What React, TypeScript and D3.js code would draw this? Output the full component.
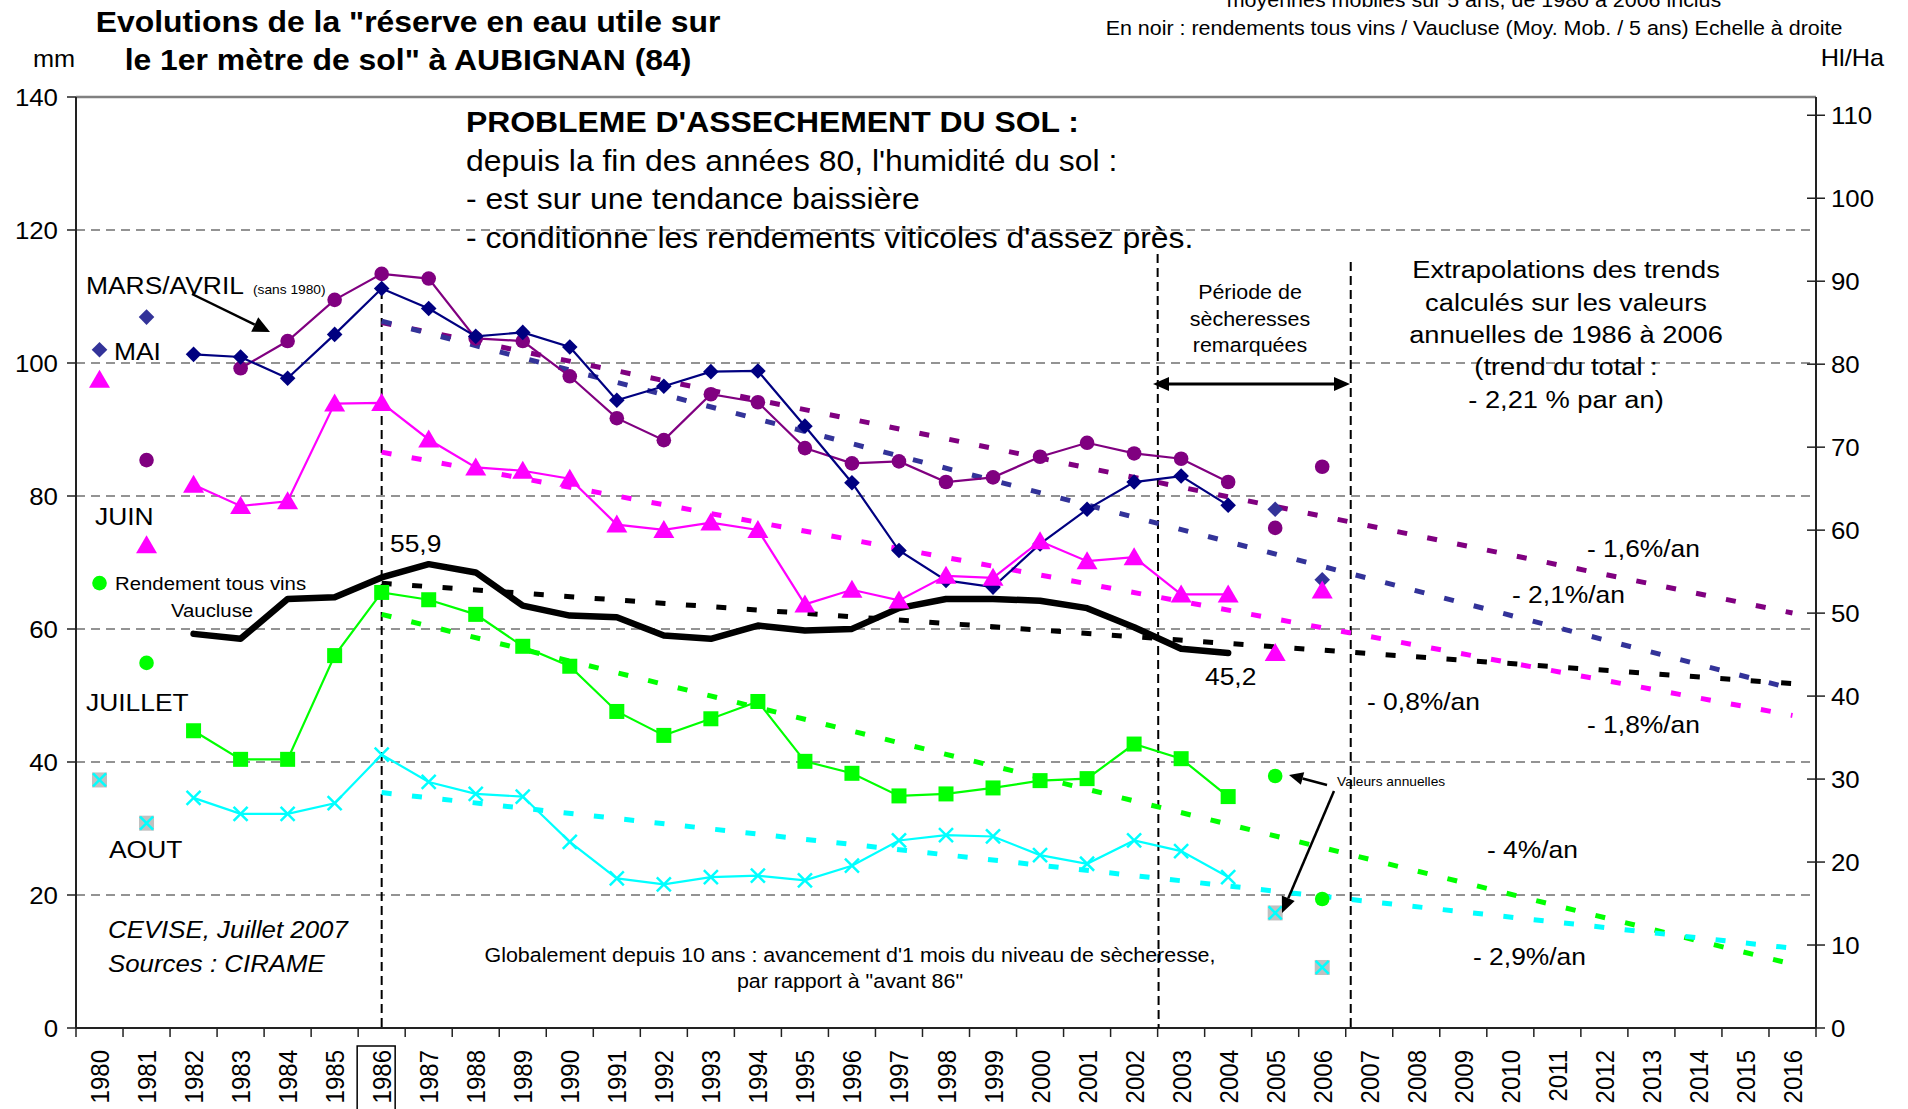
import React from "react";
import * as d3 from "d3";

// categories
const years = d3.range(1980, 2017);
const lineYears = d3.range(1982, 2005);
const isoYears = [1980, 1981, 2005, 2006];

// mm, 1982..2004 (connected series)
const marsAvril = [null, 99.2, 103.3, 109.5, 113.4, 112.7, 103.7, 103.3, 98.0, 91.7, 88.4, 95.3, 94.1, 87.2, 84.9, 85.2, 82.1, 82.8, 85.9, 88.0, 86.4, 85.6, 82.1];
const mai = [101.3, 100.9, 97.7, 104.3, 111.2, 108.2, 104.0, 104.6, 102.4, 94.4, 96.5, 98.7, 98.8, 90.5, 82.0, 71.8, 67.3, 66.3, 72.8, 78.0, 82.1, 83.0, 78.6];
const juin = [81.7, 78.5, 79.2, 93.9, 94.0, 88.5, 84.3, 83.8, 82.6, 75.7, 74.9, 76.0, 74.9, 63.7, 65.9, 64.3, 68.0, 67.7, 73.2, 70.2, 70.8, 65.2, 65.2];
const juillet = [44.7, 40.4, 40.4, 56.0, 65.5, 64.4, 62.2, 57.4, 54.4, 47.6, 44.0, 46.5, 49.1, 40.1, 38.3, 34.9, 35.2, 36.1, 37.2, 37.5, 42.7, 40.5, 34.8];
const aout = [34.6, 32.2, 32.2, 33.8, 41.1, 37.0, 35.2, 34.8, 28.0, 22.5, 21.6, 22.7, 22.9, 22.2, 24.4, 28.2, 29.0, 28.8, 26.0, 24.7, 28.2, 26.6, 22.7];
// Hl/Ha, right scale
const rendement = [47.5, 46.9, 51.7, 51.9, 54.3, 55.9, 54.9, 50.9, 49.7, 49.5, 47.3, 46.9, 48.5, 47.9, 48.1, 50.6, 51.7, 51.7, 51.5, 50.6, 48.3, 45.7, 45.2];

// annual values (1980, 1981, 2005, 2006)
const maiIso = [102.0, 106.9, 78.0, 67.4];
const marsIso = [null, 85.4, 75.2, 84.4];
const juinIso = [97.5, 72.6, 56.4, 65.8];
const juilletIso = [66.9, 54.9, 37.9, 19.4];
const aoutIso = [37.3, 30.8, 17.3, 9.1];

// trends 1986 -> 2016
const trendYears = [1986, 2016];
const trendMars = [106.1, 62.4];
const trendMai = [106.3, 51.0];
const trendJuin = [86.6, 47.0];
const trendRendement = [53.6, 41.5];
const trendJuillet = [62.2, 9.6];
const trendAout = [35.4, 12.0];

const leftTicks = [0, 20, 40, 60, 80, 100, 120, 140];
const rightTicks = [0, 10, 20, 30, 40, 50, 60, 70, 80, 90, 100, 110];

const W = 1908;
const H = 1109;
const SX = 1.1; // text is slightly wide in the original
const FONT = "'Liberation Sans', Arial, sans-serif";

const x = d3.scaleBand<number>().domain(years).range([76, 1816]);
const cx = (yr: number) => (x(yr) as number) + x.bandwidth() / 2;
const yL = d3.scaleLinear().domain([0, 140]).range([1028, 97]);
const yR = d3.scaleLinear().domain([0, 112.2]).range([1028, 97]);

const PURPLE = "#800080";
const NAVY = "#000080";
const BLUE = "#333399";
const PINK = "#FF00FF";
const GREEN = "#00FF00";
const CYAN = "#00FFFF";

const T = ({ x, y, size, anchor = "start", weight = "normal", italic = false, children }: any) => (
  <text
    transform={`translate(${x},${y}) scale(${SX},1)`}
    fontSize={size}
    textAnchor={anchor}
    fontWeight={weight}
    fontStyle={italic ? "italic" : "normal"}
    fontFamily={FONT}
    fill="#000"
  >
    {children}
  </text>
);

const Arrow = ({ x1, y1, x2, y2, w = 2.5, head = 16, hw = 7 }: any) => {
  const a = Math.atan2(y2 - y1, x2 - x1);
  const bx = x2 - head * Math.cos(a);
  const by = y2 - head * Math.sin(a);
  const px = -Math.sin(a) * hw;
  const py = Math.cos(a) * hw;
  return (
    <g>
      <line x1={x1} y1={y1} x2={bx} y2={by} stroke="#000" strokeWidth={w} />
      <polygon points={`${x2},${y2} ${bx + px},${by + py} ${bx - px},${by - py}`} fill="#000" />
    </g>
  );
};

const diamond = (r: number) => `M0,${-r}L${r},0L0,${r}L${-r},0Z`;
const triangle = "M0,-10L10.5,8L-10.5,8Z";

const Marker = ({ kind, px, py, color }: any) => {
  const t = `translate(${px},${py})`;
  if (kind === "diamond") return <path transform={t} d={diamond(7.8)} fill={color} />;
  if (kind === "circle") return <circle cx={px} cy={py} r={7.3} fill={color} />;
  if (kind === "triangle") return <path transform={t} d={triangle} fill={color} />;
  if (kind === "square") return <rect x={px - 7.5} y={py - 7.5} width={15} height={15} fill={color} />;
  if (kind === "cross")
    return (
      <g transform={t} stroke={color} strokeWidth={2.5}>
        <line x1={-7} y1={-7} x2={7} y2={7} />
        <line x1={-7} y1={7} x2={7} y2={-7} />
      </g>
    );
  if (kind === "xbox")
    return (
      <g transform={t}>
        <rect x={-7.5} y={-7.5} width={15} height={15} fill="#C0C0C0" />
        <g stroke={color} strokeWidth={2.5}>
          <line x1={-6.5} y1={-6.5} x2={6.5} y2={6.5} />
          <line x1={-6.5} y1={6.5} x2={6.5} y2={-6.5} />
        </g>
      </g>
    );
  return null;
};

const series = [
  { vals: marsAvril, color: PURPLE, kind: "circle" },
  { vals: mai, color: NAVY, kind: "diamond" },
  { vals: juin, color: PINK, kind: "triangle" },
  { vals: juillet, color: GREEN, kind: "square" },
  { vals: aout, color: CYAN, kind: "cross" },
];

const isoSeries = [
  { vals: maiIso, color: BLUE, kind: "diamond" },
  { vals: marsIso, color: PURPLE, kind: "circle" },
  { vals: juinIso, color: PINK, kind: "triangle" },
  { vals: juilletIso, color: GREEN, kind: "circle" },
  { vals: aoutIso, color: CYAN, kind: "xbox" },
];

const trends = [
  { vals: trendMars, color: PURPLE, y: yL },
  { vals: trendMai, color: BLUE, y: yL },
  { vals: trendJuin, color: PINK, y: yL },
  { vals: trendRendement, color: "#000", y: yR },
  { vals: trendJuillet, color: GREEN, y: yL },
  { vals: trendAout, color: CYAN, y: yL },
];

export default function App() {
  const lineL = d3
    .line<number | null>()
    .defined((d) => d != null)
    .x((_, i) => cx(lineYears[i]))
    .y((d) => yL(d as number));
  const lineR = d3
    .line<number>()
    .x((_, i) => cx(lineYears[i]))
    .y((d) => yR(d));

  return (
    <svg width={W} height={H} style={{ position: "absolute", left: 0, top: 0, background: "#fff" }}>
      <rect width={W} height={H} fill="#fff" />

      {/* grid */}
      {leftTicks.filter((t) => t > 0 && t < 140).map((t) => (
        <line key={t} x1={76} x2={1816} y1={yL(t)} y2={yL(t)} stroke="#707070" strokeWidth={1.5} strokeDasharray="9 6" />
      ))}

      {/* frame */}
      <line x1={76} x2={1816} y1={yL(140)} y2={yL(140)} stroke="#808080" strokeWidth={2.5} />
      <line x1={76} x2={76} y1={yL(140)} y2={yL(0)} stroke="#222" strokeWidth={2} />
      <line x1={1816} x2={1816} y1={yL(140)} y2={yL(0)} stroke="#222" strokeWidth={2} />
      <line x1={76} x2={1816} y1={yL(0)} y2={yL(0)} stroke="#222" strokeWidth={2} />

      {/* left axis */}
      {leftTicks.map((t) => (
        <g key={t}>
          <line x1={67} x2={76} y1={yL(t)} y2={yL(t)} stroke="#222" strokeWidth={1.5} />
          <T x={58} y={yL(t) + 8.5} size={23.5} anchor="end">{t}</T>
        </g>
      ))}
      {/* right axis */}
      {rightTicks.map((t) => (
        <g key={t}>
          <line x1={1807} x2={1825} y1={yR(t)} y2={yR(t)} stroke="#222" strokeWidth={1.5} />
          <T x={1831} y={yR(t) + 8.5} size={23.5}>{t}</T>
        </g>
      ))}
      {/* x axis */}
      {years.concat([2017]).map((yr) => {
        const xx = yr === 2017 ? 1816 : (x(yr) as number);
        return <line key={yr} x1={xx} x2={xx} y1={1028} y2={1037} stroke="#222" strokeWidth={1.5} />;
      })}
      {years.map((yr) => (
        <text
          key={yr}
          transform={`translate(${cx(yr)},1050) scale(${SX},1) rotate(-90)`}
          textAnchor="end"
          dy="0.36em"
          fontSize={24}
          fontFamily={FONT}
        >
          {yr}
        </text>
      ))}
      <rect x={(x(1986) as number) - 1} y={1046} width={38} height={70} fill="none" stroke="#000" strokeWidth={1.5} />

      {/* vertical markers */}
      <line x1={cx(1986)} x2={cx(1986)} y1={290} y2={1028} stroke="#000" strokeWidth={2} strokeDasharray="9 5" />
      <line x1={x(2003) as number} x2={(x(2003) as number) + 1} y1={254} y2={1028} stroke="#000" strokeWidth={2} strokeDasharray="9 5" />
      <line x1={(x(2007) as number) + 5} x2={(x(2007) as number) + 5} y1={262} y2={1028} stroke="#000" strokeWidth={2} strokeDasharray="9 5" />

      {/* trends */}
      {trends.map((tr, i) => (
        <line
          key={i}
          x1={cx(trendYears[0])}
          y1={tr.y(tr.vals[0])}
          x2={cx(trendYears[1])}
          y2={tr.y(tr.vals[1])}
          stroke={tr.color}
          strokeWidth={5}
          strokeDasharray="10 20.5"
        />
      ))}

      {/* rendement */}
      <path d={lineR(rendement) as string} fill="none" stroke="#000" strokeWidth={6.5} strokeLinejoin="round" strokeLinecap="round" />

      {/* monthly series */}
      {series.map((s, i) => (
        <g key={i}>
          <path d={lineL(s.vals) as string} fill="none" stroke={s.color} strokeWidth={2.2} />
          {s.vals.map((v, j) =>
            v == null ? null : <Marker key={j} kind={s.kind} px={cx(lineYears[j])} py={yL(v)} color={s.color} />
          )}
        </g>
      ))}
      {isoSeries.map((s, i) => (
        <g key={i}>
          {s.vals.map((v, j) =>
            v == null ? null : <Marker key={j} kind={s.kind} px={cx(isoYears[j])} py={yL(v)} color={s.color} />
          )}
        </g>
      ))}

      {/* titles */}
      <T x={408} y={32} size={29} anchor="middle" weight="bold">Evolutions de la "réserve en eau utile sur</T>
      <T x={408} y={70} size={29} anchor="middle" weight="bold">le 1er mètre de sol" à AUBIGNAN (84)</T>
      <T x={33} y={67} size={23}>mm</T>
      <T x={1884} y={66} size={23} anchor="end">Hl/Ha</T>
      <T x={1474} y={7} size={19.5} anchor="middle">moyennes mobiles sur 5 ans, de 1980 à 2006 inclus</T>
      <T x={1474} y={35} size={19.5} anchor="middle">En noir : rendements tous vins / Vaucluse (Moy. Mob. / 5 ans) Echelle à droite</T>

      <T x={466} y={132} size={29} weight="bold">PROBLEME D'ASSECHEMENT DU SOL :</T>
      <T x={466} y={171} size={29}>depuis la fin des années 80, l'humidité du sol :</T>
      <T x={466} y={209} size={29}>- est sur une tendance baissière</T>
      <T x={466} y={248} size={29}>- conditionne les rendements viticoles d'assez près.</T>

      {/* series labels */}
      <T x={86} y={294} size={24}>MARS/AVRIL</T>
      <T x={253} y={294} size={12.5}>(sans 1980)</T>
      <Arrow x1={192} y1={294} x2={270} y2={332} w={2.5} head={17} hw={8} />
      <T x={114} y={360} size={24}>MAI</T>
      <T x={95} y={525} size={24}>JUIN</T>
      <T x={115} y={590} size={18.5}>Rendement tous vins</T>
      <T x={171} y={617} size={18.5}>Vaucluse</T>
      <T x={86} y={711} size={24}>JUILLET</T>
      <T x={109} y={858} size={24}>AOUT</T>
      <T x={108} y={938} size={23.5} italic>CEVISE, Juillet 2007</T>
      <T x={108} y={972} size={23.5} italic>Sources : CIRAME</T>
      <T x={390} y={552} size={24}>55,9</T>
      <T x={1205} y={685} size={24}>45,2</T>

      {/* dry period */}
      <T x={1250} y={299} size={19.5} anchor="middle">Période de</T>
      <T x={1250} y={326} size={19.5} anchor="middle">sècheresses</T>
      <T x={1250} y={352} size={19.5} anchor="middle">remarquées</T>
      <Arrow x1={1200} y1={384} x2={1153} y2={384} w={3} head={16} hw={7} />
      <Arrow x1={1200} y1={384} x2={1350} y2={384} w={3} head={16} hw={7} />

      <T x={1566} y={278} size={24.8} anchor="middle">Extrapolations des trends</T>
      <T x={1566} y={311} size={24.8} anchor="middle">calculés sur les valeurs</T>
      <T x={1566} y={343} size={24.8} anchor="middle">annuelles de 1986 à 2006</T>
      <T x={1566} y={375} size={24.8} anchor="middle">(trend du total :</T>
      <T x={1566} y={408} size={24.8} anchor="middle">- 2,21 % par an)</T>

      <T x={1587} y={557} size={24}>- 1,6%/an</T>
      <T x={1512} y={603} size={24}>- 2,1%/an</T>
      <T x={1367} y={710} size={24}>- 0,8%/an</T>
      <T x={1587} y={733} size={24}>- 1,8%/an</T>
      <T x={1487} y={858} size={24}>- 4%/an</T>
      <T x={1473} y={965} size={24}>- 2,9%/an</T>

      <T x={1337} y={786} size={12.5}>Valeurs annuelles</T>
      <Arrow x1={1327} y1={785} x2={1289} y2={775} w={2.5} head={14} hw={6.5} />
      <Arrow x1={1334} y1={791} x2={1282} y2={913} w={2.5} head={16} hw={7} />

      <T x={850} y={962} size={19.5} anchor="middle">Globalement depuis 10 ans : avancement d'1 mois du niveau de sècheresse,</T>
      <T x={850} y={988} size={19.5} anchor="middle">par rapport à "avant 86"</T>
    </svg>
  );
}
